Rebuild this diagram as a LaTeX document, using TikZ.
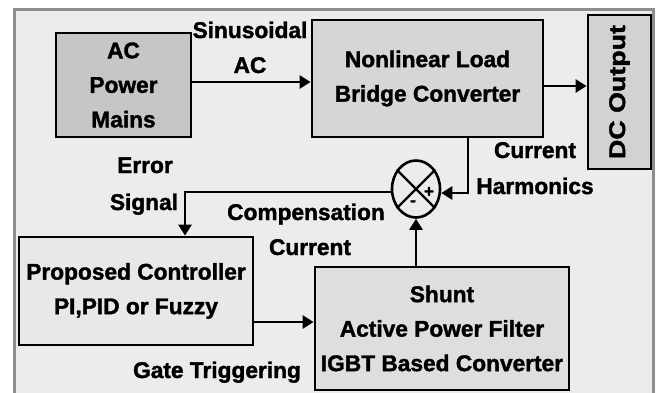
\documentclass[tikz,border=0pt]{standalone}
\usepackage{fontspec}
\setmainfont{Liberation Sans}[BoldFeatures={FakeBold=1.6}]
\usetikzlibrary{arrows.meta,shapes.geometric}
\definecolor{bgc}{HTML}{ECECEC}
\definecolor{framec}{HTML}{8E8E8E}
\definecolor{acfill}{HTML}{C6C6C6}
\definecolor{nlfill}{HTML}{D6D6D6}
\definecolor{dcfill}{HTML}{D2D2D2}
\definecolor{ctfill}{HTML}{E8E8E8}
\definecolor{shfill}{HTML}{DEDEDE}
\begin{document}
\begin{tikzpicture}[x=1pt,y=-1pt,
  box/.style={draw=black, line width=2.8pt, inner sep=0pt, align=center,
    font=\fontsize{22.7}{34.5}\selectfont\bfseries},
  lbl/.style={inner sep=0pt, text height=16pt, text depth=4pt,
    font=\fontsize{22.7}{34}\selectfont\bfseries},
  sgn/.style={inner sep=0pt, font=\fontsize{17}{17}\selectfont\bfseries},
  conn/.style={line width=2.8pt, -{Triangle[length=11pt,width=13pt]}}
]
\useasboundingbox (0,0) rectangle (659,392);
\fill[white] (0,0) rectangle (659,392);
\begin{scope}
  \clip (0,0) rectangle (659,392);
  \draw[fill=bgc, draw=framec, line width=3pt] (14,9) rectangle (653,430);
\end{scope}

\node[box, fill=acfill, minimum width=135pt, minimum height=104pt] (ac) at (123.5,85) {AC\\Power\\Mains};
\node[box, fill=nlfill, minimum width=231pt, minimum height=117pt] (nl) at (427.5,78.5) {Nonlinear Load\\Bridge Converter};
\node[box, fill=dcfill, minimum width=63pt, minimum height=154pt] (dc) at (619.5,92) {};
\node[inner sep=0pt, rotate=90, font=\fontsize{22.7}{34}\selectfont\bfseries] (dct) at (dc.center) {\scalebox{1.18}[1]{DC Output}};
\node[box, fill=ctfill, minimum width=234pt, minimum height=108pt] (ct) at (136,291) {Proposed Controller\\PI,PID or Fuzzy};
\node[box, fill=shfill, minimum width=254pt, minimum height=123pt] (sh) at (442,328.5) {Shunt\\Active Power Filter\\IGBT Based Converter};
\node[draw=black, line width=2.6pt, ellipse, minimum width=48pt, minimum height=57pt, inner sep=0pt] (sum) at (416,189) {};
\draw[line width=2.4pt] (sum.45) -- (sum.225) (sum.135) -- (sum.315);
\node[sgn] (plus) at (429,192) {+};
\node[sgn] (minus) at (413,203) {-};

\draw[conn] ([yshift=3pt]ac.east) -- ([yshift=3pt]ac.east -| nl.west);
\draw[conn] ([yshift=-7.5pt]nl.east) -- ([yshift=-7.5pt]nl.east -| dc.west);
\draw[conn] ([xshift=40.5pt]nl.south) |- ([yshift=-4pt]sum.east);
\draw[conn] ([yshift=-3pt]sum.west) -| ([xshift=49pt]ct.north);
\draw[conn] ([yshift=-31pt]ct.east) -- ([yshift=-31pt]ct.east -| sh.west);
\draw[conn] (sum.south |- sh.north) -- (sum.south);

\node[lbl] (l1) at (250,32) {Sinusoidal};
\node[lbl] (l2) at (250,67) {AC};
\node[lbl] (l3) at (145,167) {Error};
\node[lbl] (l4) at (144,204) {Signal};
\node[lbl] (l5) at (306,214) {Compensation};
\node[lbl] (l6) at (310,249) {Current};
\node[lbl] (l7) at (535,152) {Current};
\node[lbl] (l8) at (535,188) {Harmonics};
\node[lbl] (l9) at (217,372) {Gate Triggering};
\end{tikzpicture}
\end{document}
